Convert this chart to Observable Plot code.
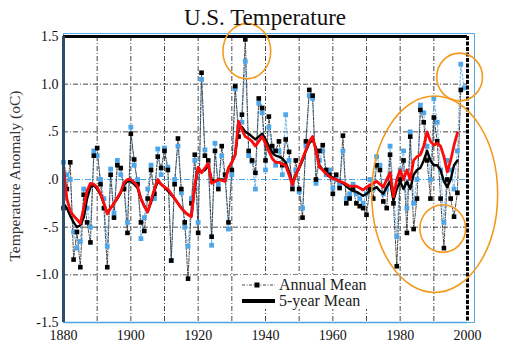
<!DOCTYPE html>
<html><head><meta charset="utf-8">
<script src="https://cdn.jsdelivr.net/npm/d3@7"></script>
<script src="https://cdn.jsdelivr.net/npm/@observablehq/plot@0.6"></script>
<style>
body{margin:0;background:#fff}
#chart svg{overflow:visible}
#chart svg text{font-family:"Liberation Serif","Times New Roman",serif}
</style>
</head><body><div id="chart"></div>
<script>
const startYear = 1880;
// Annual mean (black squares), 1880-1998
const annualMean = [
 -0.30,-0.10, 0.18,-0.84,-0.55,-0.92,-0.16,-0.45,-0.66, 0.25,
  0.33,-0.05,-0.30,-0.92, 0.05,-0.40, 0.15, 0.12,-0.10,-0.56,
  0.48, 0.21,-0.05,-0.45,-0.54,-0.20, 0.10,-0.15, 0.24, 0.12,
  0.30, 0.10,-0.85,-0.05, 0.43,-0.10,-0.45,-1.04,-0.25, 0.26,
 -0.56, 1.12, 0.25, 0.20,-0.60, 0.30,-0.10, 0.35, 0.05,-0.45,
  0.10, 0.98, 0.45, 0.68, 1.47, 0.30, 0.20, 0.07, 0.85, 0.75,
  0.20, 0.66, 0.35, 0.30, 0.40, 0.15, 0.42, 0.29,-0.10, 0.20,
 -0.10,-0.40, 0.40, 0.94, 0.88, 0.00, 0.30, 0.36, 0.10, 0.05,
 -0.15, 0.05,-0.09, 0.46,-0.25,-0.20,-0.10,-0.25,-0.28,-0.30,
 -0.37,-0.10,-0.20, 0.15, 0.10,-0.23,-0.30, 0.26,-0.25,-0.91,
  0.00, 0.20,-0.56, 0.45,-0.52,-0.20, 0.73, 0.60, 0.20,-0.20,
  0.65, 0.40,-0.20,-0.72, 0.00,-0.20,-0.39,-0.14, 0.94
];
// Revised annual mean (blue squares), 1880-1999
const annualMeanBlue = [
  0.18, 0.05, 0.00,-0.55,-0.72,-0.65,-0.10,-0.30,-0.50, 0.30,
  0.25, 0.00,-0.20,-0.70, 0.11,-0.35, 0.20, 0.05,-0.05,-0.45,
  0.55, 0.15, 0.00,-0.62,-0.40,-0.10, 0.15,-0.20, 0.32, 0.05,
  0.33, 0.13,-0.85, 0.00, 0.35,-0.14,-0.50,-0.70,-0.20, 0.20,
 -0.45, 1.05, 0.31, 0.15,-0.69, 0.38,-0.05, 0.25, 0.00,-0.52,
  0.05, 0.95, 0.55, 0.60, 1.24, 0.25, 0.19,-0.10, 0.80, 0.70,
  0.10, 0.55, 0.30, 0.15, 0.30, 0.05, 0.68, 0.20,-0.06, 0.10,
 -0.13,-0.30, 0.35, 0.88, 0.85,-0.04, 0.20, 0.30, 0.05, 0.10,
 -0.09, 0.00,-0.05, 0.30,-0.20,-0.15,-0.05,-0.15,-0.20,-0.25,
 -0.15, 0.00,-0.10, 0.24, 0.15,-0.15,-0.10, 0.35,-0.10,-0.60,
  0.10, 0.30,-0.30, 0.50,-0.25, 0.00, 0.78, 0.70, 0.35, 0.00,
  0.85, 0.60, 0.10,-0.45, 0.20, 0.10,-0.10, 0.30, 1.21, 0.96
];
// 5-year mean (black thick line), 1880-1997
const fiveYearMean = [
 -0.25,-0.30,-0.38,-0.45,-0.50,-0.48,-0.40,-0.20,-0.08,-0.06,
 -0.10,-0.16,-0.25,-0.35,-0.30,-0.25,-0.20,-0.14,-0.05,-0.02,
 -0.02,-0.05,-0.09,-0.20,-0.28,-0.34,-0.24,-0.12,-0.02,-0.05,
 -0.08,-0.12,-0.16,-0.20,-0.25,-0.30,-0.34,-0.37,-0.38,-0.08,
  0.12, 0.08, 0.10, 0.15, 0.00,-0.02, 0.00, 0.00,-0.01, 0.12,
  0.18, 0.26, 0.55, 0.55, 0.50, 0.48, 0.45, 0.42, 0.45, 0.48,
  0.42, 0.35, 0.28, 0.25, 0.24, 0.22, 0.18, 0.08,-0.03, 0.05,
  0.12, 0.20, 0.30, 0.38, 0.42, 0.33, 0.15, 0.10, 0.06, 0.04,
  0.02, 0.00,-0.02,-0.04,-0.07,-0.10,-0.12,-0.13,-0.15,-0.17,
 -0.15,-0.12,-0.10,-0.08,-0.12,-0.15,-0.08,-0.02,-0.22,-0.10,
 -0.02,-0.10,-0.02,-0.10, 0.05, 0.10, 0.12, 0.20, 0.30, 0.20,
  0.15, 0.15, 0.10,-0.02,-0.08, 0.00, 0.15, 0.20
];
// Revised 5-year mean (red line), 1880-1997
const fiveYearMeanRed = [
  0.15,-0.20,-0.33,-0.38,-0.42,-0.46,-0.30,-0.12,-0.04,-0.05,
 -0.08,-0.15,-0.25,-0.36,-0.30,-0.25,-0.19,-0.13,-0.03, 0.00,
  0.00,-0.03,-0.07,-0.20,-0.28,-0.34,-0.22,-0.10, 0.00,-0.05,
 -0.08,-0.10,-0.15,-0.20,-0.25,-0.30,-0.34,-0.37,-0.39,-0.05,
  0.13, 0.07, 0.12, 0.17,-0.04,-0.02, 0.00,-0.01,-0.02, 0.12,
  0.18, 0.26, 0.61, 0.52, 0.45, 0.43, 0.40, 0.35, 0.40, 0.45,
  0.38, 0.30, 0.22, 0.18, 0.18, 0.16, 0.15, 0.05,-0.06, 0.05,
  0.13, 0.22, 0.31, 0.40, 0.45, 0.30, 0.13, 0.10, 0.06, 0.03,
  0.01, 0.00,-0.02,-0.03,-0.05,-0.07,-0.07,-0.07,-0.09,-0.11,
 -0.08,-0.06,-0.04,-0.02,-0.05,-0.08, 0.00, 0.07,-0.18, 0.00,
  0.10, 0.00, 0.10, 0.00, 0.20, 0.24, 0.26, 0.35, 0.50, 0.40,
  0.36, 0.38, 0.35, 0.24, 0.08, 0.20, 0.36, 0.49
];
const xTicks = [1880, 1900, 1920, 1940, 1960, 1980, 2000];
const gridYears = [1890, 1900, 1910, 1920, 1930, 1940, 1950, 1960, 1970, 1980, 1990];
const yTicks = [-1.5, -1.0, -0.5, 0, 0.5, 1.0, 1.5];
const yTickLabels = ["-1.5", "-1.0", "-.5", ".0", ".5", "1.0", "1.5"];
const gridValues = [-1.0, -0.5, 0.5, 1.0];
// orange highlight ellipses: centre (year, value) and radii (years, anomaly)
const highlights = [
  {year: 1934.6, value: 1.34, rx: 7.1, ry: 0.29},
  {year: 1997.8, value: 1.07, rx: 6.8, ry: 0.25},
  {year: 1990.4, value: -0.16, rx: 18.7, ry: 1.03},
  {year: 1992.8, value: -0.52, rx: 6.8, ry: 0.25}
];
const titleText = "U.S. Temperature";
const yLabel = "Temperature Anomaly (oC)";
const legendLabels = ["Annual Mean", "5-year Mean"];

const toRows = arr => arr.map((v, i) => ({year: startYear + i, value: v}));
const black = toRows(annualMean);
const blue = toRows(annualMeanBlue);
const black5 = toRows(fiveYearMean);
const red5 = toRows(fiveYearMeanRed);
const serif = "Liberation Serif, Times New Roman, serif";

const plot = Plot.plot({
  width: 507,
  height: 350,
  marginLeft: 63,
  marginRight: 40,
  marginTop: 36,
  marginBottom: 28,
  style: {fontSize: "14px", fontFamily: serif, color: "#111", background: "#fff"},
  x: {domain: [1880, 2000], label: null},
  y: {domain: [-1.5, 1.5], label: null},
  marks: [
    Plot.frame({stroke: "#5aaee8", strokeWidth: 1, insetRight: -7, insetTop: -3}),
    Plot.ruleX(gridYears, {stroke: "#333", strokeWidth: 0.9, strokeDasharray: "5,2,1,2"}),
    Plot.ruleY(gridValues, {stroke: "#333", strokeWidth: 0.9, strokeDasharray: "5,2,1,2"}),
    Plot.ruleY([0], {stroke: "#4aa3e6", strokeWidth: 1.2, strokeDasharray: "6,2,1,2"}),
    Plot.line(blue, {x: "year", y: "value", stroke: "#6fb4ea", strokeWidth: 1, strokeDasharray: "2,2"}),
    Plot.line(black, {x: "year", y: "value", stroke: "#333", strokeWidth: 0.9, strokeDasharray: "3,1.5,1,1.5"}),
    Plot.dot(blue, {x: "year", y: "value", symbol: "square", r: 2.7, fill: "#4ea6ea", stroke: "none"}),
    Plot.dot(black, {x: "year", y: "value", symbol: "square", r: 2.6, fill: "#000", stroke: "none"}),
    Plot.line(black5, {x: "year", y: "value", stroke: "#000", strokeWidth: 2.4}),
    Plot.line(red5, {x: "year", y: "value", stroke: "#ff0a0a", strokeWidth: 2.8}),
    Plot.ruleY([1.5], {stroke: "#000", strokeWidth: 3}),
    Plot.ruleY([-1.5], {stroke: "#4aa3e6", strokeWidth: 1.5}),
    Plot.ruleX([1880], {stroke: "#2e4d6b", strokeWidth: 3}),
    Plot.ruleX([2000], {stroke: "#000", strokeWidth: 3, strokeDasharray: "4,1.5"}),
    Plot.axisX({ticks: xTicks, tickFormat: d => String(d), tickSize: 0, tickPadding: 8,
      fontFamily: serif, fontSize: 14, fill: "#111", label: null}),
    Plot.axisY({ticks: yTicks, tickFormat: d => yTickLabels[yTicks.indexOf(d)], tickSize: 0, tickPadding: 5,
      fontFamily: serif, fontSize: 14, fill: "#111", label: null})
  ]
});

const svg = d3.select(plot);
const sx = plot.scale("x"), sy = plot.scale("y");

// highlight ellipses
const gE = svg.append("g").attr("fill", "none").attr("stroke", "#f39a1e").attr("stroke-width", 1.6);
highlights.forEach(h => {
  const cx = sx.apply(h.year), cy = sy.apply(h.value);
  gE.append("ellipse")
    .attr("cx", cx).attr("cy", cy)
    .attr("rx", Math.abs(sx.apply(h.year + h.rx) - cx))
    .attr("ry", Math.abs(sy.apply(h.value + h.ry) - cy));
});

// title
svg.append("text").attr("x", 265).attr("y", 25).attr("text-anchor", "middle")
  .attr("font-size", 23).attr("fill", "#111").text(titleText);
// y label
svg.append("text").attr("transform", "translate(20,176) rotate(-90)").attr("text-anchor", "middle")
  .attr("font-size", 15.5).attr("fill", "#333").text(yLabel);

// legend
const lg = svg.append("g").attr("text-anchor", "start");
lg.append("rect").attr("x", 236).attr("y", 275).attr("width", 140).attr("height", 34).attr("fill", "#fff");
lg.append("line").attr("x1", 242).attr("x2", 275).attr("y1", 285).attr("y2", 285)
  .attr("stroke", "#333").attr("stroke-width", 0.9).attr("stroke-dasharray", "3,1.5,1,1.5");
lg.append("rect").attr("x", 254.5).attr("y", 282.5).attr("width", 5).attr("height", 5).attr("fill", "#000");
lg.append("text").attr("x", 279).attr("y", 290).attr("text-anchor", "start").attr("font-size", 16).attr("fill", "#222").text(legendLabels[0]);
lg.append("line").attr("x1", 242).attr("x2", 275).attr("y1", 301).attr("y2", 301)
  .attr("stroke", "#000").attr("stroke-width", 4);
lg.append("text").attr("x", 279).attr("y", 306).attr("text-anchor", "start").attr("font-size", 16).attr("fill", "#222").text(legendLabels[1]);

document.getElementById("chart").appendChild(plot);
</script>
</body></html>
